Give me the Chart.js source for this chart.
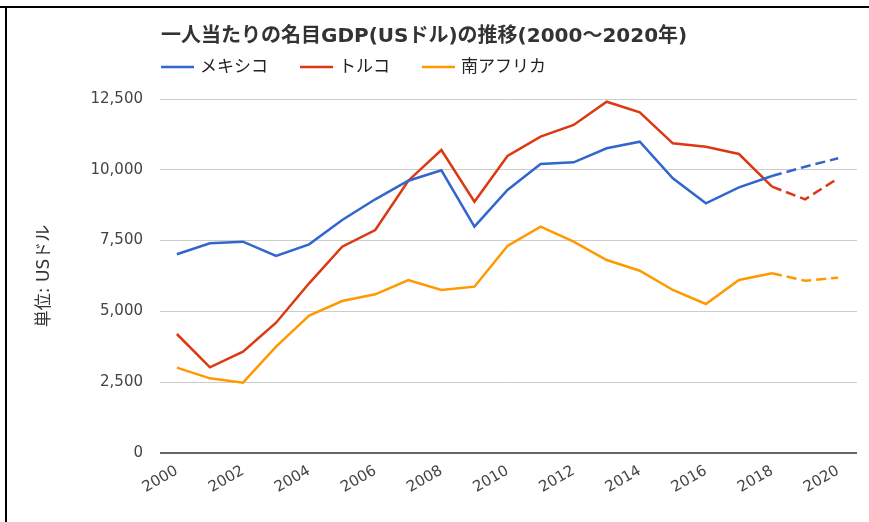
<!DOCTYPE html>
<html><head><meta charset="utf-8">
<script src="https://cdn.jsdelivr.net/npm/chart.js@4.4.0/dist/chart.umd.min.js"></script>
<style>
html,body{margin:0;padding:0;background:#fff;overflow:hidden;}
#wrap{position:relative;width:869px;height:522px;}
canvas{position:absolute;left:0;top:0;}
.bt{position:absolute;left:0;top:6px;width:869px;height:2px;background:#000;}
.bl{position:absolute;left:5px;top:6px;width:2px;height:516px;background:#000;}
</style></head>
<body><div id="wrap"><canvas id="c" width="869" height="522"></canvas><div class="bt"></div><div class="bl"></div></div>
<script>
const years = [2000,2001,2002,2003,2004,2005,2006,2007,2008,2009,2010,2011,2012,2013,2014,2015,2016,2017,2018,2019,2020];
const seriesNames = ['メキシコ','トルコ','南アフリカ'];
const mexico = [7016,7405,7461,6956,7369,8227,8958,9615,9982,7991,9287,10205,10265,10759,10993,9700,8817,9382,9781,10110,10406];
const turkey = [4202,3026,3578,4601,5992,7285,7874,9615,10699,8874,10487,11169,11582,12405,12030,10935,10816,10558,9404,8958,9700];
const southAfrica = [3013,2637,2483,3754,4849,5367,5603,6109,5756,5873,7309,7991,7461,6815,6437,5756,5261,6109,6345,6084,6190];
const yTicks = [0,2500,5000,7500,10000,12500];
const xTickYears = [2000,2002,2004,2006,2008,2010,2012,2014,2016,2018,2020];
const titleText = '一人当たりの名目GDP(USドル)の推移(2000～2020年)';
const yAxisTitle = '単位: USドル';
const forecastFrom = 2018;
const colors = ['#3366cc','#dc3912','#ff9900'];

const FONT = '"DejaVu Sans","Noto Sans CJK JP",sans-serif';
const mk = (arr) => arr.map((v,i)=>({x:years[i], y:v}));
const seriesData = [mexico, turkey, southAfrica];

const decor = {
  id:'decor',
  afterDraw(chart){
    const ctx = chart.ctx; ctx.save();
    ctx.textBaseline='middle'; ctx.textAlign='left';
    ctx.fillStyle='#333';
    ctx.font = 'bold 20px ' + FONT;
    ctx.fillText(titleText, 161, 37);
    ctx.font = '17px ' + FONT;
    let x = 161; const ly = 67;
    chart.data.datasets.forEach(ds=>{
      ctx.strokeStyle = ds.borderColor; ctx.lineWidth = 2.5; ctx.setLineDash([]);
      ctx.beginPath(); ctx.moveTo(x, ly); ctx.lineTo(x+33, ly); ctx.stroke();
      x += 39;
      ctx.fillStyle = '#222';
      ctx.fillText(ds.label, x, ly+1);
      x += ctx.measureText(ds.label).width + 32;
    });
    ctx.translate(45, 276); ctx.rotate(-Math.PI/2);
    ctx.textAlign='center'; ctx.fillStyle='#333';
    ctx.font = '17px ' + FONT;
    ctx.fillText(yAxisTitle, 0, 0);
    ctx.restore();
  }
};

new Chart(document.getElementById('c'), {
  type:'line',
  data:{
    datasets: seriesData.map((arr,i)=>({
      label: seriesNames[i],
      data: mk(arr),
      borderColor: colors[i],
      backgroundColor: colors[i],
      borderWidth: 2.5,
      pointRadius: 0,
      pointHoverRadius: 0,
      tension: 0,
      fill: false,
      segment: { borderDash: c => c.p0.parsed.x >= forecastFrom ? [10,5] : undefined }
    }))
  },
  options:{
    responsive:false, animation:false, devicePixelRatio:1,
    layout:{ padding:{ top:99, right:12, left:0, bottom:0 } },
    plugins:{ legend:{display:false}, title:{display:false}, tooltip:{enabled:false} },
    scales:{
      x:{
        type:'linear', min:1999.49, max:2020.57,
        afterBuildTicks: s => { s.ticks = xTickYears.map(v=>({value:v})); },
        afterFit: s => { s.height = 69; },
        grid:{display:false}, border:{display:false},
        ticks:{ autoSkip:false, maxRotation:30, minRotation:30, padding:1, labelOffset:0,
          color:'#444', font:{family:FONT, size:15}, callback: v => String(v) }
      },
      y:{
        min:0, max:12500,
        afterBuildTicks: s => { s.ticks = yTicks.map(v=>({value:v})); },
        afterFit: s => { s.width = 160; },
        border:{display:false},
        grid:{ drawTicks:false,
          color: c => c.tick && c.tick.value === 0 ? '#666' : '#cccccc',
          lineWidth: c => c.tick && c.tick.value === 0 ? 2 : 1 },
        ticks:{ padding:17, color:'#444', font:{family:FONT, size:15},
          callback: v => Number(v).toLocaleString('en-US') }
      }
    }
  },
  plugins:[decor]
});
</script>
</body></html>
